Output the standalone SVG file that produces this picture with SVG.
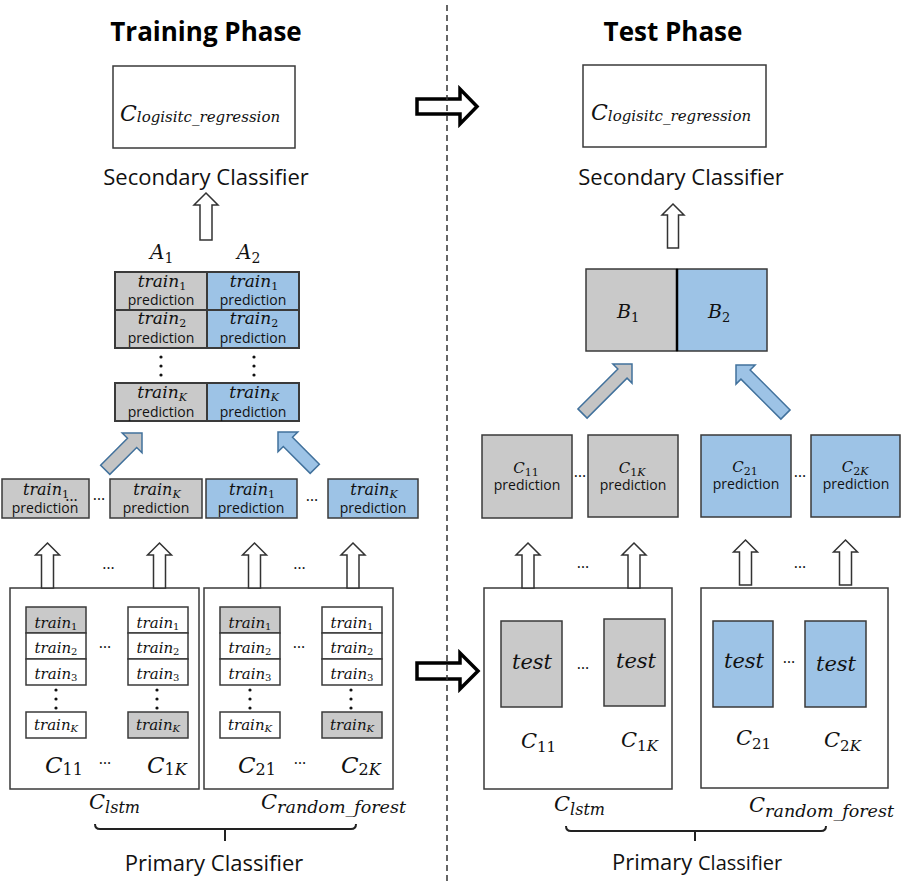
<svg xmlns="http://www.w3.org/2000/svg" xmlns:xlink="http://www.w3.org/1999/xlink" width="902" height="882" viewBox="0 0 902 882">
  <style>
    .sans { font-family: "Open Sans", "Noto Sans", sans-serif; fill: #111; }
    .ttl { font-family: "Open Sans", "Noto Sans", sans-serif; font-weight: bold; font-size: 26px; fill: #000; text-anchor: middle; }
    .lbl { font-size: 22px; text-anchor: middle; }
    .pred { font-size: 14px; text-anchor: middle; }
    .dots { font-family: "Open Sans", "Noto Sans", sans-serif; font-size: 16px; fill: #111; text-anchor: middle; }
    .m { font-family: "DejaVu Serif", "Liberation Serif", serif; font-style: italic; fill: #111; }
    .up { font-style: normal; }
    .mid { text-anchor: middle; }
    .box { fill: #fff; stroke: #3a3a3a; stroke-width: 1.5; }
    .gray { fill: #c9c9c9; stroke: #3a3a3a; stroke-width: 1.5; }
    .blue { fill: #9dc3e6; stroke: #3a3a3a; stroke-width: 1.5; }
    .tbl { stroke-width: 2; }
    .arr { fill: #fff; stroke: #333; stroke-width: 1.5; }
    .bigarr { fill: #fff; stroke: #000; stroke-width: 3.5; stroke-linejoin: miter; }
    .dg { fill: #c4c4c4; stroke: #41719c; stroke-width: 1.5; }
    .db { fill: #9dc3e6; stroke: #41719c; stroke-width: 1.5; }
    .brace { fill: none; stroke: #222; stroke-width: 2; }
    .vdot { fill: #111; }
  </style>
  <defs>
    <!-- hollow upward block arrow, tip at origin -->
    <path id="upArrow" d="M0,0 L12,12 L6,12 L6,45 L-6,45 L-6,12 L-12,12 Z"/>
    <!-- filled block arrows, tip at origin, pointing up before rotation -->
    <path id="diagShort" d="M0,0 L14,14 L6.5,14 L6.5,52 L-6.5,52 L-6.5,14 L-14,14 Z"/>
    <path id="diagLong" d="M0,0 L13.5,13.5 L6.5,13.5 L6.5,70 L-6.5,70 L-6.5,13.5 L-13.5,13.5 Z"/>
    <!-- vertical ellipsis -->
    <g id="vdots"><circle cx="0" cy="0" r="1.6"/><circle cx="0" cy="9" r="1.6"/><circle cx="0" cy="18" r="1.6"/></g>
  </defs>

  <rect x="0" y="0" width="902" height="882" fill="#fff"/>

  <!-- ===== Training phase ===== -->
  <text class="ttl" x="206" y="41">Training Phase</text>

  <g id="train-secondary">
    <rect class="box" x="113" y="66" width="182" height="82"/>
    <text class="m" x="120" y="121" font-size="22">C<tspan font-size="15" dy="1">logisitc_regression</tspan></text>
    <text class="sans lbl" x="206" y="185">Secondary Classifier</text>
  </g>

  <g id="train-meta-features">
    <text class="m" x="150" y="259" font-size="20">A<tspan class="up" font-size="14" dy="4">1</tspan></text>
    <text class="m" x="237" y="259" font-size="20">A<tspan class="up" font-size="14" dy="4">2</tspan></text>

    <rect class="gray tbl" x="115" y="272" width="92" height="38"/>
    <rect class="blue tbl" x="207" y="272" width="92" height="38"/>
    <rect class="gray tbl" x="115" y="310" width="92" height="38"/>
    <rect class="blue tbl" x="207" y="310" width="92" height="38"/>
    <rect class="gray tbl" x="115" y="383" width="92" height="38"/>
    <rect class="blue tbl" x="207" y="383" width="92" height="38"/>

    <text class="m mid" x="162" y="287" font-size="17">train<tspan class="up" font-size="11" dy="3">1</tspan></text>
    <text class="sans pred" x="161" y="305">prediction</text>
    <text class="m mid" x="254" y="287" font-size="17">train<tspan class="up" font-size="11" dy="3">1</tspan></text>
    <text class="sans pred" x="253" y="305">prediction</text>
    <text class="m mid" x="162" y="324" font-size="17">train<tspan class="up" font-size="11" dy="3">2</tspan></text>
    <text class="sans pred" x="161" y="343">prediction</text>
    <text class="m mid" x="254" y="324" font-size="17">train<tspan class="up" font-size="11" dy="3">2</tspan></text>
    <text class="sans pred" x="253" y="343">prediction</text>
    <use href="#vdots" class="vdot" x="161" y="357"/>
    <use href="#vdots" class="vdot" x="254" y="357"/>
    <text class="m mid" x="162" y="398" font-size="17">train<tspan font-size="11" dy="3">K</tspan></text>
    <text class="sans pred" x="161" y="417">prediction</text>
    <text class="m mid" x="254" y="398" font-size="17">train<tspan font-size="11" dy="3">K</tspan></text>
    <text class="sans pred" x="253" y="417">prediction</text>
  </g>

  <g id="train-fold-predictions">
    <rect class="gray" x="2" y="479" width="87" height="39"/>
    <text class="m mid" x="46" y="495" font-size="16">train<tspan class="up" font-size="11" dy="3">1</tspan></text>
    <text class="sans pred" x="45" y="513">prediction</text>
    <text class="dots" x="71.5" y="501">…</text>
    <text class="dots" x="99" y="500">…</text>
    <rect class="gray" x="110" y="479" width="92" height="39"/>
    <text class="m mid" x="157" y="495" font-size="16">train<tspan font-size="11" dy="3">K</tspan></text>
    <text class="sans pred" x="156" y="513">prediction</text>
    <rect class="blue" x="206" y="479" width="91" height="39"/>
    <text class="m mid" x="252" y="495" font-size="16">train<tspan class="up" font-size="11" dy="3">1</tspan></text>
    <text class="sans pred" x="251" y="513">prediction</text>
    <text class="dots" x="312" y="501">…</text>
    <rect class="blue" x="328" y="479" width="90" height="39"/>
    <text class="m mid" x="374" y="495" font-size="16">train<tspan font-size="11" dy="3">K</tspan></text>
    <text class="sans pred" x="373" y="513">prediction</text>
  </g>

  <g id="train-lstm">
    <rect class="box" x="10" y="588" width="189" height="201"/>
    <rect class="gray" x="26" y="607" width="60" height="26"/>
    <rect class="box" x="26" y="633" width="60" height="26"/>
    <rect class="box" x="26" y="659" width="60" height="26"/>
    <rect class="box" x="26" y="712" width="60" height="26"/>
    <text class="m mid" x="56" y="628" font-size="15">train<tspan class="up" font-size="10" dy="2">1</tspan></text>
    <text class="m mid" x="56" y="653" font-size="15">train<tspan class="up" font-size="10" dy="2">2</tspan></text>
    <text class="m mid" x="56" y="679" font-size="15">train<tspan class="up" font-size="10" dy="2">3</tspan></text>
    <use href="#vdots" class="vdot" x="56" y="690"/>
    <text class="m mid" x="56" y="730" font-size="15">train<tspan font-size="10" dy="2">K</tspan></text>
    <text class="dots" x="105" y="648">…</text>
    <rect class="box" x="128" y="607" width="60" height="26"/>
    <rect class="box" x="128" y="633" width="60" height="26"/>
    <rect class="box" x="128" y="659" width="60" height="26"/>
    <rect class="gray" x="128" y="712" width="60" height="26"/>
    <text class="m mid" x="158" y="628" font-size="15">train<tspan class="up" font-size="10" dy="2">1</tspan></text>
    <text class="m mid" x="158" y="653" font-size="15">train<tspan class="up" font-size="10" dy="2">2</tspan></text>
    <text class="m mid" x="158" y="679" font-size="15">train<tspan class="up" font-size="10" dy="2">3</tspan></text>
    <use href="#vdots" class="vdot" x="157" y="690"/>
    <text class="m mid" x="158" y="730" font-size="15">train<tspan font-size="10" dy="2">K</tspan></text>
    <text class="m" x="45" y="773" font-size="23">C<tspan class="up" font-size="16" dy="2">11</tspan></text>
    <text class="dots" x="105" y="764">…</text>
    <text class="m" x="147" y="773" font-size="23">C<tspan font-size="16" dy="2"><tspan class="up">1</tspan>K</tspan></text>
  </g>

  <g id="train-random-forest">
    <rect class="box" x="204" y="588" width="189" height="201"/>
    <rect class="gray" x="220" y="607" width="60" height="26"/>
    <rect class="box" x="220" y="633" width="60" height="26"/>
    <rect class="box" x="220" y="659" width="60" height="26"/>
    <rect class="box" x="220" y="712" width="60" height="26"/>
    <text class="m mid" x="250" y="628" font-size="15">train<tspan class="up" font-size="10" dy="2">1</tspan></text>
    <text class="m mid" x="250" y="653" font-size="15">train<tspan class="up" font-size="10" dy="2">2</tspan></text>
    <text class="m mid" x="250" y="679" font-size="15">train<tspan class="up" font-size="10" dy="2">3</tspan></text>
    <use href="#vdots" class="vdot" x="250" y="690"/>
    <text class="m mid" x="250" y="730" font-size="15">train<tspan font-size="10" dy="2">K</tspan></text>
    <text class="dots" x="299" y="648">…</text>
    <rect class="box" x="322" y="607" width="60" height="26"/>
    <rect class="box" x="322" y="633" width="60" height="26"/>
    <rect class="box" x="322" y="659" width="60" height="26"/>
    <rect class="gray" x="322" y="712" width="60" height="26"/>
    <text class="m mid" x="352" y="628" font-size="15">train<tspan class="up" font-size="10" dy="2">1</tspan></text>
    <text class="m mid" x="352" y="653" font-size="15">train<tspan class="up" font-size="10" dy="2">2</tspan></text>
    <text class="m mid" x="352" y="679" font-size="15">train<tspan class="up" font-size="10" dy="2">3</tspan></text>
    <use href="#vdots" class="vdot" x="351" y="690"/>
    <text class="m mid" x="352" y="730" font-size="15">train<tspan font-size="10" dy="2">K</tspan></text>
    <text class="m" x="238" y="773" font-size="23">C<tspan class="up" font-size="16" dy="2">21</tspan></text>
    <text class="dots" x="300" y="764">…</text>
    <text class="m" x="341" y="773" font-size="23">C<tspan font-size="16" dy="2"><tspan class="up">2</tspan>K</tspan></text>
  </g>

  <g id="train-primary-label">
    <text class="m" x="89" y="809" font-size="21">C<tspan font-size="16" dy="4">lstm</tspan></text>
    <text class="m" x="261" y="809" font-size="21">C<tspan font-size="17.5" dy="4">random_forest</tspan></text>
    <path class="brace" d="M95,824 Q95,829 100,829 L351,829 Q356,829 356,824 M225,829 V841"/>
    <text class="sans lbl" x="214" y="871">Primary Classifier</text>
  </g>

  <!-- ===== Test phase ===== -->
  <text class="ttl" x="673" y="41">Test Phase</text>

  <g id="test-secondary">
    <rect class="box" x="583" y="65" width="183" height="82"/>
    <text class="m" x="591" y="120" font-size="22">C<tspan font-size="15" dy="1">logisitc_regression</tspan></text>
    <text class="sans lbl" x="681" y="185">Secondary Classifier</text>
  </g>

  <g id="test-meta-features">
    <rect class="gray" x="586" y="269" width="91" height="82"/>
    <rect class="blue" x="677" y="269" width="90" height="82"/>
    <line x1="677" y1="269" x2="677" y2="351" stroke="#000" stroke-width="2.5"/>
    <text class="m" x="617" y="318" font-size="19">B<tspan class="up" font-size="13" dy="4">1</tspan></text>
    <text class="m" x="708" y="318" font-size="19">B<tspan class="up" font-size="13" dy="4">2</tspan></text>
  </g>

  <g id="test-predictions">
    <rect class="gray" x="482" y="435" width="90" height="83"/>
    <text class="m mid" x="526" y="473" font-size="15">C<tspan class="up" font-size="11" dy="3">11</tspan></text>
    <text class="sans pred" x="527" y="490">prediction</text>
    <text class="dots" x="580" y="477">…</text>
    <rect class="gray" x="588" y="435" width="90" height="82"/>
    <text class="m mid" x="632" y="473" font-size="15">C<tspan font-size="11" dy="3"><tspan class="up">1</tspan>K</tspan></text>
    <text class="sans pred" x="633" y="490">prediction</text>
    <rect class="blue" x="701" y="435" width="90" height="82"/>
    <text class="m mid" x="745" y="472" font-size="15">C<tspan class="up" font-size="11" dy="3">21</tspan></text>
    <text class="sans pred" x="746" y="489">prediction</text>
    <text class="dots" x="800" y="477">…</text>
    <rect class="blue" x="811" y="435" width="89" height="82"/>
    <text class="m mid" x="855" y="472" font-size="15">C<tspan font-size="11" dy="3"><tspan class="up">2</tspan>K</tspan></text>
    <text class="sans pred" x="856" y="489">prediction</text>
  </g>

  <g id="test-lstm">
    <rect class="box" x="484" y="588" width="188" height="201"/>
    <rect class="gray" x="501" y="621" width="61" height="86"/>
    <text class="m mid" x="532" y="669" font-size="21">test</text>
    <text class="dots" x="583" y="669">…</text>
    <rect class="gray" x="604" y="619" width="61" height="87"/>
    <text class="m mid" x="636" y="668" font-size="21">test</text>
    <text class="m" x="521" y="748" font-size="21">C<tspan class="up" font-size="15" dy="4">11</tspan></text>
    <text class="m" x="621" y="747" font-size="21">C<tspan font-size="15" dy="4"><tspan class="up">1</tspan>K</tspan></text>
  </g>

  <g id="test-random-forest">
    <rect class="box" x="701" y="588" width="187" height="200"/>
    <rect class="blue" x="713" y="621" width="60" height="86"/>
    <text class="m mid" x="744" y="668" font-size="21">test</text>
    <text class="dots" x="789" y="663">…</text>
    <rect class="blue" x="805" y="621" width="61" height="86"/>
    <text class="m mid" x="836" y="671" font-size="21">test</text>
    <text class="m" x="736" y="745" font-size="21">C<tspan class="up" font-size="15" dy="4">21</tspan></text>
    <text class="m" x="824" y="747" font-size="21">C<tspan font-size="15" dy="4"><tspan class="up">2</tspan>K</tspan></text>
  </g>

  <g id="test-primary-label">
    <text class="m" x="554" y="811" font-size="21">C<tspan font-size="16" dy="4">lstm</tspan></text>
    <text class="m" x="749" y="812" font-size="21">C<tspan font-size="17.5" dy="5">random_forest</tspan></text>
    <path class="brace" d="M566,826 Q566,831 571,831 L821,831 Q826,831 826,826 M695,831 V841"/>
    <text class="sans lbl" x="697" y="870"><tspan font-size="22">Primary</tspan> <tspan font-size="20">Classifier</tspan></text>
  </g>

  <!-- ===== Connectors ===== -->
  <g id="connectors">
    <!-- meta-features up to secondary classifier -->
    <path class="arr" d="M206,193 L218,205 L212,205 L212,240 L200,240 L200,205 L194,205 Z"/>
    <path class="arr" d="M673,204 L684,215 L678.5,215 L678.5,248 L667.5,248 L667.5,215 L662,215 Z"/>

    <!-- base learners up to their fold predictions -->
    <use href="#upArrow" class="arr" x="47.5" y="543"/>
    <use href="#upArrow" class="arr" x="159.5" y="543"/>
    <use href="#upArrow" class="arr" x="254.5" y="543"/>
    <use href="#upArrow" class="arr" x="353" y="543"/>
    <text class="dots" x="108.5" y="569">…</text>
    <text class="dots" x="299.5" y="569">…</text>

    <use href="#upArrow" class="arr" x="528" y="543"/>
    <use href="#upArrow" class="arr" x="634" y="543"/>
    <use href="#upArrow" class="arr" x="745.5" y="540"/>
    <use href="#upArrow" class="arr" x="845.5" y="540"/>
    <text class="dots" x="583" y="568">…</text>
    <text class="dots" x="800" y="568">…</text>

    <!-- predictions gathered into meta-features -->
    <use href="#diagShort" class="dg" transform="translate(142,433) rotate(45)"/>
    <use href="#diagShort" class="db" transform="translate(278,432) rotate(-45)"/>
    <use href="#diagLong" class="dg" transform="translate(632,364) rotate(45)"/>
    <use href="#diagLong" class="db" transform="translate(736,365) rotate(-45)"/>

    <!-- training to test transfer -->
    <path class="bigarr" d="M417,99 L460,99 L460,89 L477,106.5 L460,124 L460,114 L417,114 Z"/>
    <path class="bigarr" d="M417,663 L460,663 L460,653 L478,671 L460,689 L460,679 L417,679 Z"/>
  </g>

  <!-- phase separator -->
  <line x1="447" y1="5" x2="447" y2="882" stroke="#333" stroke-width="1.5" stroke-dasharray="6 4"/>
</svg>
